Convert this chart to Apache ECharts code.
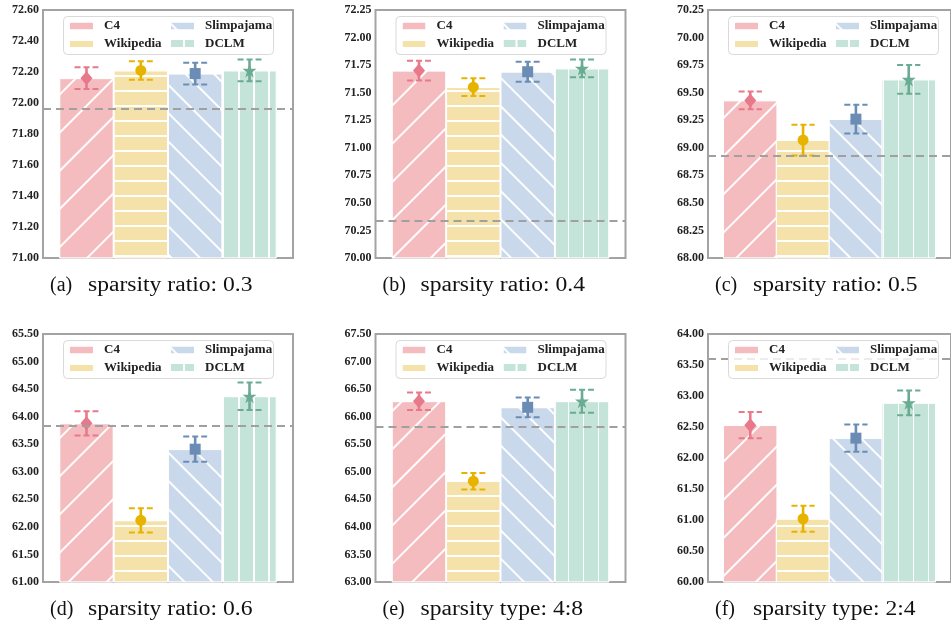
<!DOCTYPE html>
<html>
<head>
<meta charset="utf-8">
<script src="https://cdn.jsdelivr.net/npm/echarts@6/dist/echarts.min.js"></script>
<style>
html,body{margin:0;padding:0;background:#fff;}
#chart{width:951px;height:626px;}
</style>
</head>
<body>
<div id="chart"></div>
<script>
// ---------- data ----------
const categories = ['C4', 'Wikipedia', 'Slimpajama', 'DCLM'];
const panelTags = ['(a)', '(b)', '(c)', '(d)', '(e)', '(f)'];
const panelTitles = [
  'sparsity ratio: 0.3',
  'sparsity ratio: 0.4',
  'sparsity ratio: 0.5',
  'sparsity ratio: 0.6',
  'sparsity type: 4:8',
  'sparsity type: 2:4'
];
const meanA = [72.16, 72.21, 72.19, 72.21];
const errA  = [0.07, 0.06, 0.07, 0.07];
const meanB = [71.70, 71.55, 71.69, 71.72];
const errB  = [0.09, 0.08, 0.09, 0.08];
const meanC = [69.43, 69.07, 69.26, 69.62];
const errC  = [0.08, 0.14, 0.13, 0.13];
const meanD = [63.88, 62.12, 63.41, 64.37];
const errD  = [0.22, 0.22, 0.23, 0.25];
const meanE = [66.28, 64.83, 66.17, 66.28];
const errE  = [0.16, 0.15, 0.18, 0.21];
const meanF = [62.53, 61.02, 62.32, 62.89];
const errF  = [0.21, 0.21, 0.22, 0.20];
const baselines = [71.96, 70.34, 68.93, 63.84, 65.82, 63.60];
const yMins  = [71.00, 70.00, 68.00, 61.00, 63.00, 60.00];
const yMaxs  = [72.60, 72.25, 70.25, 65.50, 67.50, 64.00];
const ySteps = [0.2, 0.25, 0.25, 0.5, 0.5, 0.5];

const means = [meanA, meanB, meanC, meanD, meanE, meanF];
const errs  = [errA, errB, errC, errD, errE, errF];

// ---------- styles ----------
const barColors = ['#f5bcc0', '#f5e2ab', '#c9d8ea', '#c5e4d9'];
const markColors = ['#e8798a', '#e6b400', '#6b8db5', '#6aab93'];
const starPath = 'path://M50,0 L61,35 L98,35 L68,57 L79,91 L50,70 L21,91 L32,57 L2,35 L39,35 Z';
const markSymbols = ['diamond', 'circle', 'rect', starPath];
const markSizes = [[12, 14], 11, 11, 14];
const hatch = 'rgba(255,255,255,0.95)';
const decals = [
  { symbol: 'rect', symbolSize: 1, color: hatch, dashArrayX: [1, 0], dashArrayY: [1.3, 24.7], rotation: -Math.PI / 4 },
  { symbol: 'rect', symbolSize: 1, color: hatch, dashArrayX: [1, 0], dashArrayY: [1.3, 12.3], rotation: 0 },
  { symbol: 'rect', symbolSize: 1, color: hatch, dashArrayX: [1, 0], dashArrayY: [1.3, 17.8], rotation: Math.PI / 4 },
  { symbol: 'rect', symbolSize: 1, color: hatch, dashArrayX: [1, 0], dashArrayY: [1.3, 12.3], rotation: Math.PI / 2 }
];

const GRID_W = 250, GRID_H = 248;
const colLefts = [43, 375.5, 708];
const rowTops = [10, 334];
const X_MIN = -0.8, X_MAX = 3.8;
const serif = '"Liberation Serif", "Times New Roman", serif';

const grids = [], xAxes = [], yAxes = [], series = [], legends = [], graphics = [];

for (let p = 0; p < 6; p++) {
  const left = colLefts[p % 3];
  const top = rowTops[Math.floor(p / 3)];
  grids.push({ left: left, top: top, width: GRID_W, height: GRID_H, show: true,
    borderColor: '#a3a3a3', borderWidth: 2, backgroundColor: 'transparent', containLabel: false });
  xAxes.push({ type: 'value', gridIndex: p, min: X_MIN, max: X_MAX, show: false });
  yAxes.push({ type: 'value', gridIndex: p, min: yMins[p], max: yMaxs[p], interval: ySteps[p],
    axisLine: { show: false }, axisTick: { show: false }, splitLine: { show: false },
    axisLabel: { formatter: v => v.toFixed(2), fontFamily: serif, fontWeight: 'bold',
      fontSize: 12, color: '#222', margin: 4 } });

  const barW = GRID_W / (X_MAX - X_MIN);
  categories.forEach((name, i) => {
    const s = {
      name: name, type: 'bar', xAxisIndex: p, yAxisIndex: p,
      data: [[i, means[p][i]]], barWidth: barW, barGap: '-100%',
      itemStyle: { color: barColors[i], borderColor: '#fff', borderWidth: 0.8, decal: decals[i] },
      z: 2, animation: false
    };
    if (i === 0) {
      s.markLine = { silent: true, symbol: 'none', animation: false,
        label: { show: false },
        lineStyle: { color: '#a0a0a0', type: [8, 5], width: 2 },
        data: [{ yAxis: baselines[p] }] };
    }
    series.push(s);
  });

  // error bars
  series.push({
    type: 'custom', name: 'err' + p, xAxisIndex: p, yAxisIndex: p, z: 3, animation: false,
    data: categories.map((c, i) => [i, means[p][i], errs[p][i]]),
    renderItem: function (params, api) {
      const x = api.value(0), y = api.value(1), e = api.value(2);
      const i = params.dataIndex;
      const top = api.coord([x, y + e]);
      const bot = api.coord([x, y - e]);
      const half = api.size([0.22, 0])[0];
      const col = markColors[i];
      return { type: 'group', children: [
        { type: 'line', shape: { x1: top[0], y1: top[1], x2: bot[0], y2: bot[1] },
          style: { stroke: col, lineWidth: 2.6 } },
        { type: 'line', shape: { x1: top[0] - half, y1: top[1], x2: top[0] + half, y2: top[1] },
          style: { stroke: col, lineWidth: 2, lineDash: [6, 3] } },
        { type: 'line', shape: { x1: bot[0] - half, y1: bot[1], x2: bot[0] + half, y2: bot[1] },
          style: { stroke: col, lineWidth: 2, lineDash: [6, 3] } }
      ] };
    }
  });

  // markers
  series.push({
    type: 'scatter', name: 'mk' + p, xAxisIndex: p, yAxisIndex: p, z: 4, animation: false,
    data: categories.map((c, i) => ({ value: [i, means[p][i]], symbol: markSymbols[i],
      symbolSize: markSizes[i], itemStyle: { color: markColors[i], opacity: 1 } }))
  });

  // legend box
  graphics.push({ type: 'rect', z: 10, left: left + 20, top: top + 6,
    shape: { width: 210, height: 38, r: 4 },
    style: { fill: 'rgba(255,255,255,0.8)', stroke: '#d9d9d9', lineWidth: 1 } });
  const legBase = { orient: 'vertical', itemWidth: 25, itemHeight: 9, itemGap: 3.5, icon: 'rect',
    selectedMode: false, z: 11, padding: 0,
    textStyle: { fontFamily: serif, fontWeight: 'bold', fontSize: 13, color: '#222', lineHeight: 14,
      padding: [0, 0, 0, 5] } };
  legends.push(Object.assign({}, legBase, { left: left + 25, top: top + 9, data: ['C4', 'Wikipedia'] }));
  legends.push(Object.assign({}, legBase, { left: left + 126, top: top + 9, data: ['Slimpajama', 'DCLM'] }));

  // caption
  const cx = left + GRID_W / 2 - 16;
  const cy = top + GRID_H + 28;
  graphics.push({ type: 'text', z: 10, x: cx - 102, y: cy,
    style: { text: panelTags[p], font: '20px ' + serif, fill: '#111',
      textAlign: 'left', textVerticalAlign: 'middle' } });
  graphics.push({ type: 'text', z: 10, x: cx - 64, y: cy, scaleX: 1.18, scaleY: 1,
    style: { text: panelTitles[p], font: '20px ' + serif, fill: '#111',
      textAlign: 'left', textVerticalAlign: 'middle' } });
}

const chart = echarts.init(document.getElementById('chart'), null, { renderer: 'canvas' });
chart.setOption({
  animation: false,
  backgroundColor: '#fff',
  grid: grids, xAxis: xAxes, yAxis: yAxes, series: series, legend: legends,
  graphic: { elements: graphics }
});
</script>
</body>
</html>
